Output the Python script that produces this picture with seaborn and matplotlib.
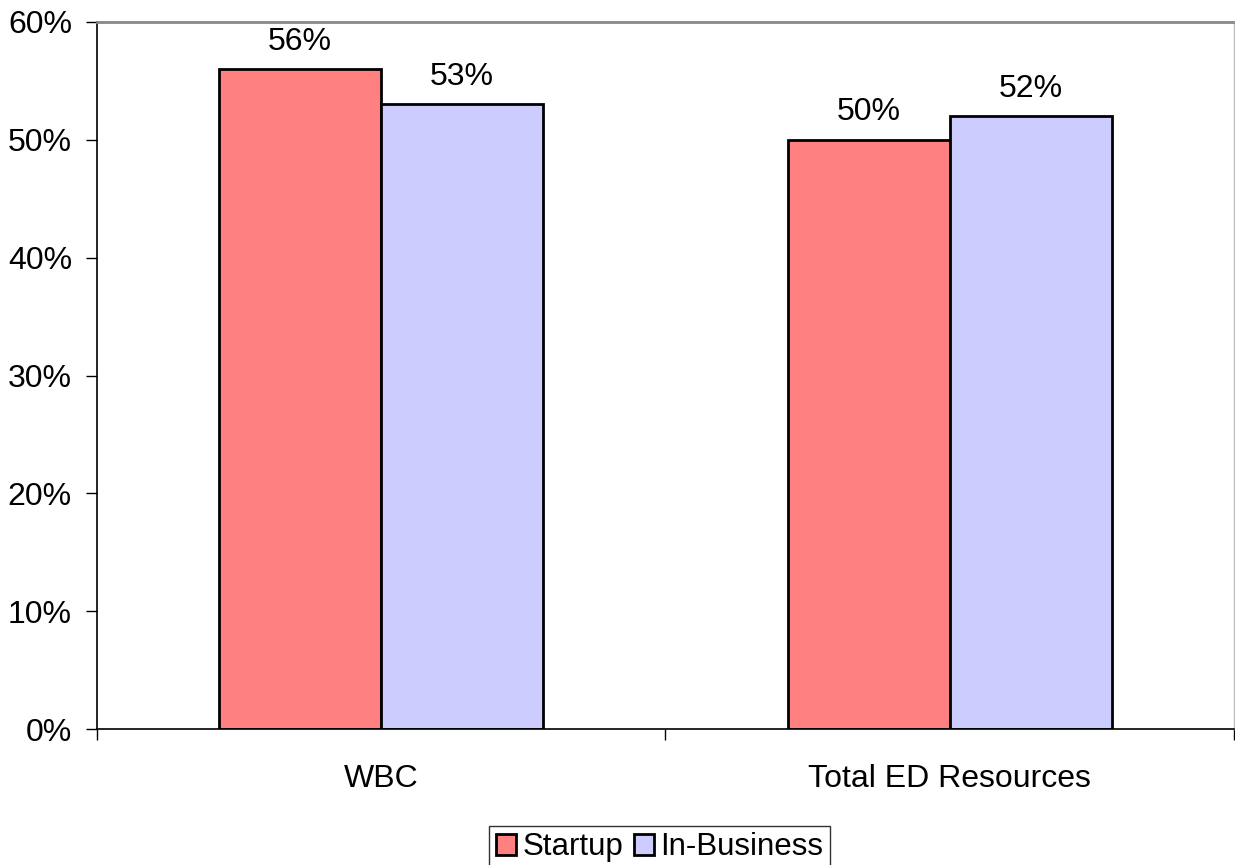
import pandas as pd
import numpy as np
import matplotlib.pyplot as plt
import seaborn as sns
from matplotlib.ticker import FixedLocator, PercentFormatter

sns.set_style('white')
plt.rcParams['font.family'] = ['Liberation Sans', 'DejaVu Sans']
plt.rcParams['text.color'] = 'black'
plt.rcParams['xtick.color'] = 'black'
plt.rcParams['ytick.color'] = 'black'

# 数据
categories = ['WBC', 'Total ED Resources']
series = ['Startup', 'In-Business']
startup = [56, 50]
in_business = [53, 52]
colors = ['#FF8080', '#CCCCFF']

df = pd.DataFrame({
    'category': categories * 2,
    'series': [series[0]] * 2 + [series[1]] * 2,
    'value': startup + in_business,
})

fig = plt.figure(figsize=(12.35, 8.65), dpi=100)
ax = fig.add_axes([0.0785, 0.157, 0.9205, 0.8176])

sns.barplot(data=df, x='category', y='value', hue='series', palette=colors,
            width=0.57, edgecolor='black', linewidth=2, saturation=1, ax=ax)

# 数据标签
for cont in ax.containers:
    ax.bar_label(cont, labels=[f'{v:.0f}%' for v in cont.datavalues],
                 padding=9, fontsize=23)

ax.set_xlim(-0.5, 1.5)
ax.set_ylim(0, 60)
ax.set_yticks(np.arange(0, 61, 10))
ax.yaxis.set_major_formatter(PercentFormatter(decimals=0))
ax.tick_params(axis='y', labelsize=23, labelcolor='black', length=8, width=1,
               left=True, pad=10)
ax.tick_params(axis='x', which='major', labelsize=23, labelcolor='black',
               length=0, pad=25)
ax.xaxis.set_minor_locator(FixedLocator([-0.5, 0.5, 1.5]))
ax.tick_params(axis='x', which='minor', length=8, width=1, bottom=True)
ax.set_xlabel('')
ax.set_ylabel('')

for s in ['left', 'bottom']:
    ax.spines[s].set_color('black')
    ax.spines[s].set_linewidth(1.2)
ax.spines['top'].set_color('#888888')
ax.spines['top'].set_linewidth(2)
ax.spines['right'].set_color('#bbbbbb')
ax.spines['right'].set_linewidth(1)

ax.legend_.remove()
h, l = ax.get_legend_handles_labels()
leg = fig.legend(h, l, loc='lower center', bbox_to_anchor=(0.534, -0.004), ncol=2,
                 fontsize=22.5, frameon=True, fancybox=False, edgecolor='black',
                 handlelength=0.65, handleheight=0.65, handletextpad=0.2,
                 columnspacing=0.35, borderpad=0.2, borderaxespad=0)
leg.get_frame().set_linewidth(1)

fig.savefig('out.png', dpi=100)
